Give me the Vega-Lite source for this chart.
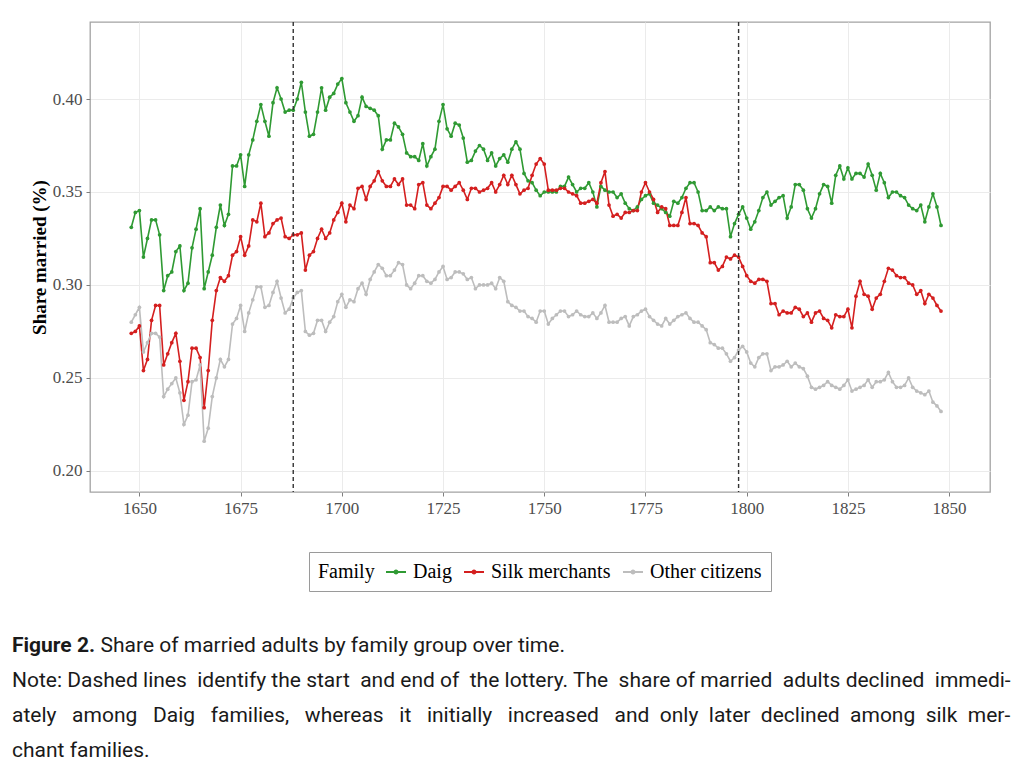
{
  "$schema": "https://vega.github.io/schema/vega-lite/v6.json",
  "width": 900,
  "height": 470,
  "autosize": "none",
  "padding": {"left": 90, "top": 22, "right": 34, "bottom": 279},
  "background": "white",
  "config": {
    "view": {"stroke": "#a3a3a3", "strokeWidth": 1.3},
    "axis": {
      "domain": false,
      "grid": true,
      "gridColor": "#ebebeb",
      "gridWidth": 1,
      "tickColor": "#7f7f7f",
      "tickSize": 4,
      "labelFont": "Liberation Serif",
      "labelFontSize": 17,
      "labelColor": "#4d4d4d",
      "labelPadding": 4
    }
  },
  "title": {
    "text": "Figure 2.",
    "subtitle": [
      "\u200b\u00a0\u00a0\u00a0\u00a0\u00a0\u00a0\u00a0\u00a0\u00a0\u00a0\u00a0\u00a0\u00a0\u00a0\u00a0\u00a0\u00a0Share of married adults by family group over time.",
      "Note: Dashed lines \u00a0identify the start \u00a0and end of \u00a0the lottery. The \u00a0share of married \u00a0adults declined \u00a0immedi-",
      "ately \u00a0\u00a0among \u00a0\u00a0Daig \u00a0\u00a0families, \u00a0\u00a0whereas \u00a0\u00a0it \u00a0\u00a0initially \u00a0\u00a0increased \u00a0\u00a0and \u00a0only \u00a0later \u00a0declined \u00a0among \u00a0silk \u00a0mer-",
      "chant families."
    ],
    "orient": "bottom",
    "anchor": "start",
    "frame": "group",
    "dx": -78,
    "offset": 43,
    "font": "Roboto",
    "fontSize": 21,
    "fontWeight": "bold",
    "color": "#1a1a1a",
    "subtitleFont": "Roboto",
    "subtitleFontSize": 21,
    "subtitleColor": "#1a1a1a",
    "subtitleLineHeight": 35,
    "subtitlePadding": -21
  },
  "datasets": {
    "lottery": [
      {"event": "start", "year": 1688},
      {"event": "end", "year": 1798}
    ],
    "married": [
      {"year":1648,"family":"Daig","share":0.331},{"year":1649,"family":"Daig","share":0.339},{"year":1650,"family":"Daig","share":0.340},{"year":1651,"family":"Daig","share":0.315},{"year":1652,"family":"Daig","share":0.325},{"year":1653,"family":"Daig","share":0.335},{"year":1654,"family":"Daig","share":0.335},{"year":1655,"family":"Daig","share":0.327},{"year":1656,"family":"Daig","share":0.297},{"year":1657,"family":"Daig","share":0.305},
      {"year":1658,"family":"Daig","share":0.307},{"year":1659,"family":"Daig","share":0.318},{"year":1660,"family":"Daig","share":0.321},{"year":1661,"family":"Daig","share":0.297},{"year":1662,"family":"Daig","share":0.301},{"year":1663,"family":"Daig","share":0.320},{"year":1664,"family":"Daig","share":0.330},{"year":1665,"family":"Daig","share":0.341},{"year":1666,"family":"Daig","share":0.298},{"year":1667,"family":"Daig","share":0.307},
      {"year":1668,"family":"Daig","share":0.316},{"year":1669,"family":"Daig","share":0.331},{"year":1670,"family":"Daig","share":0.343},{"year":1671,"family":"Daig","share":0.332},{"year":1672,"family":"Daig","share":0.338},{"year":1673,"family":"Daig","share":0.364},{"year":1674,"family":"Daig","share":0.364},{"year":1675,"family":"Daig","share":0.370},{"year":1676,"family":"Daig","share":0.353},{"year":1677,"family":"Daig","share":0.370},
      {"year":1678,"family":"Daig","share":0.378},{"year":1679,"family":"Daig","share":0.388},{"year":1680,"family":"Daig","share":0.397},{"year":1681,"family":"Daig","share":0.388},{"year":1682,"family":"Daig","share":0.380},{"year":1683,"family":"Daig","share":0.398},{"year":1684,"family":"Daig","share":0.406},{"year":1685,"family":"Daig","share":0.400},{"year":1686,"family":"Daig","share":0.393},{"year":1687,"family":"Daig","share":0.394},
      {"year":1688,"family":"Daig","share":0.394},{"year":1689,"family":"Daig","share":0.400},{"year":1690,"family":"Daig","share":0.409},{"year":1691,"family":"Daig","share":0.393},{"year":1692,"family":"Daig","share":0.380},{"year":1693,"family":"Daig","share":0.381},{"year":1694,"family":"Daig","share":0.393},{"year":1695,"family":"Daig","share":0.406},{"year":1696,"family":"Daig","share":0.394},{"year":1697,"family":"Daig","share":0.401},
      {"year":1698,"family":"Daig","share":0.403},{"year":1699,"family":"Daig","share":0.408},{"year":1700,"family":"Daig","share":0.411},{"year":1701,"family":"Daig","share":0.398},{"year":1702,"family":"Daig","share":0.393},{"year":1703,"family":"Daig","share":0.388},{"year":1704,"family":"Daig","share":0.391},{"year":1705,"family":"Daig","share":0.401},{"year":1706,"family":"Daig","share":0.396},{"year":1707,"family":"Daig","share":0.395},
      {"year":1708,"family":"Daig","share":0.394},{"year":1709,"family":"Daig","share":0.391},{"year":1710,"family":"Daig","share":0.373},{"year":1711,"family":"Daig","share":0.378},{"year":1712,"family":"Daig","share":0.378},{"year":1713,"family":"Daig","share":0.387},{"year":1714,"family":"Daig","share":0.385},{"year":1715,"family":"Daig","share":0.381},{"year":1716,"family":"Daig","share":0.371},{"year":1717,"family":"Daig","share":0.369},
      {"year":1718,"family":"Daig","share":0.369},{"year":1719,"family":"Daig","share":0.367},{"year":1720,"family":"Daig","share":0.376},{"year":1721,"family":"Daig","share":0.364},{"year":1722,"family":"Daig","share":0.369},{"year":1723,"family":"Daig","share":0.373},{"year":1724,"family":"Daig","share":0.388},{"year":1725,"family":"Daig","share":0.397},{"year":1726,"family":"Daig","share":0.384},{"year":1727,"family":"Daig","share":0.380},
      {"year":1728,"family":"Daig","share":0.387},{"year":1729,"family":"Daig","share":0.386},{"year":1730,"family":"Daig","share":0.379},{"year":1731,"family":"Daig","share":0.366},{"year":1732,"family":"Daig","share":0.367},{"year":1733,"family":"Daig","share":0.372},{"year":1734,"family":"Daig","share":0.375},{"year":1735,"family":"Daig","share":0.373},{"year":1736,"family":"Daig","share":0.367},{"year":1737,"family":"Daig","share":0.371},
      {"year":1738,"family":"Daig","share":0.364},{"year":1739,"family":"Daig","share":0.368},{"year":1740,"family":"Daig","share":0.370},{"year":1741,"family":"Daig","share":0.366},{"year":1742,"family":"Daig","share":0.373},{"year":1743,"family":"Daig","share":0.377},{"year":1744,"family":"Daig","share":0.373},{"year":1745,"family":"Daig","share":0.360},{"year":1746,"family":"Daig","share":0.356},{"year":1747,"family":"Daig","share":0.355},
      {"year":1748,"family":"Daig","share":0.351},{"year":1749,"family":"Daig","share":0.348},{"year":1750,"family":"Daig","share":0.350},{"year":1751,"family":"Daig","share":0.350},{"year":1752,"family":"Daig","share":0.350},{"year":1753,"family":"Daig","share":0.350},{"year":1754,"family":"Daig","share":0.353},{"year":1755,"family":"Daig","share":0.353},{"year":1756,"family":"Daig","share":0.358},{"year":1757,"family":"Daig","share":0.354},
      {"year":1758,"family":"Daig","share":0.350},{"year":1759,"family":"Daig","share":0.352},{"year":1760,"family":"Daig","share":0.352},{"year":1761,"family":"Daig","share":0.355},{"year":1762,"family":"Daig","share":0.350},{"year":1763,"family":"Daig","share":0.342},{"year":1764,"family":"Daig","share":0.353},{"year":1765,"family":"Daig","share":0.351},{"year":1766,"family":"Daig","share":0.350},{"year":1767,"family":"Daig","share":0.350},
      {"year":1768,"family":"Daig","share":0.347},{"year":1769,"family":"Daig","share":0.349},{"year":1770,"family":"Daig","share":0.344},{"year":1771,"family":"Daig","share":0.341},{"year":1772,"family":"Daig","share":0.340},{"year":1773,"family":"Daig","share":0.342},{"year":1774,"family":"Daig","share":0.346},{"year":1775,"family":"Daig","share":0.348},{"year":1776,"family":"Daig","share":0.349},{"year":1777,"family":"Daig","share":0.344},
      {"year":1778,"family":"Daig","share":0.343},{"year":1779,"family":"Daig","share":0.341},{"year":1780,"family":"Daig","share":0.339},{"year":1781,"family":"Daig","share":0.337},{"year":1782,"family":"Daig","share":0.345},{"year":1783,"family":"Daig","share":0.344},{"year":1784,"family":"Daig","share":0.347},{"year":1785,"family":"Daig","share":0.352},{"year":1786,"family":"Daig","share":0.355},{"year":1787,"family":"Daig","share":0.355},
      {"year":1788,"family":"Daig","share":0.350},{"year":1789,"family":"Daig","share":0.340},{"year":1790,"family":"Daig","share":0.340},{"year":1791,"family":"Daig","share":0.342},{"year":1792,"family":"Daig","share":0.340},{"year":1793,"family":"Daig","share":0.342},{"year":1794,"family":"Daig","share":0.341},{"year":1795,"family":"Daig","share":0.341},{"year":1796,"family":"Daig","share":0.326},{"year":1797,"family":"Daig","share":0.333},
      {"year":1798,"family":"Daig","share":0.338},{"year":1799,"family":"Daig","share":0.342},{"year":1800,"family":"Daig","share":0.336},{"year":1801,"family":"Daig","share":0.330},{"year":1802,"family":"Daig","share":0.334},{"year":1803,"family":"Daig","share":0.340},{"year":1804,"family":"Daig","share":0.347},{"year":1805,"family":"Daig","share":0.350},{"year":1806,"family":"Daig","share":0.343},{"year":1807,"family":"Daig","share":0.345},
      {"year":1808,"family":"Daig","share":0.347},{"year":1809,"family":"Daig","share":0.348},{"year":1810,"family":"Daig","share":0.336},{"year":1811,"family":"Daig","share":0.342},{"year":1812,"family":"Daig","share":0.354},{"year":1813,"family":"Daig","share":0.354},{"year":1814,"family":"Daig","share":0.351},{"year":1815,"family":"Daig","share":0.341},{"year":1816,"family":"Daig","share":0.336},{"year":1817,"family":"Daig","share":0.341},
      {"year":1818,"family":"Daig","share":0.349},{"year":1819,"family":"Daig","share":0.354},{"year":1820,"family":"Daig","share":0.353},{"year":1821,"family":"Daig","share":0.344},{"year":1822,"family":"Daig","share":0.359},{"year":1823,"family":"Daig","share":0.364},{"year":1824,"family":"Daig","share":0.357},{"year":1825,"family":"Daig","share":0.363},{"year":1826,"family":"Daig","share":0.357},{"year":1827,"family":"Daig","share":0.360},
      {"year":1828,"family":"Daig","share":0.360},{"year":1829,"family":"Daig","share":0.358},{"year":1830,"family":"Daig","share":0.365},{"year":1831,"family":"Daig","share":0.359},{"year":1832,"family":"Daig","share":0.351},{"year":1833,"family":"Daig","share":0.360},{"year":1834,"family":"Daig","share":0.355},{"year":1835,"family":"Daig","share":0.347},{"year":1836,"family":"Daig","share":0.350},{"year":1837,"family":"Daig","share":0.350},
      {"year":1838,"family":"Daig","share":0.348},{"year":1839,"family":"Daig","share":0.347},{"year":1840,"family":"Daig","share":0.343},{"year":1841,"family":"Daig","share":0.341},{"year":1842,"family":"Daig","share":0.340},{"year":1843,"family":"Daig","share":0.343},{"year":1844,"family":"Daig","share":0.334},{"year":1845,"family":"Daig","share":0.342},{"year":1846,"family":"Daig","share":0.349},{"year":1847,"family":"Daig","share":0.342},
      {"year":1848,"family":"Daig","share":0.332},

      {"year":1648,"family":"Silk merchants","share":0.274},{"year":1649,"family":"Silk merchants","share":0.275},{"year":1650,"family":"Silk merchants","share":0.278},{"year":1651,"family":"Silk merchants","share":0.254},{"year":1652,"family":"Silk merchants","share":0.260},{"year":1653,"family":"Silk merchants","share":0.281},{"year":1654,"family":"Silk merchants","share":0.289},{"year":1655,"family":"Silk merchants","share":0.289},{"year":1656,"family":"Silk merchants","share":0.257},{"year":1657,"family":"Silk merchants","share":0.263},
      {"year":1658,"family":"Silk merchants","share":0.269},{"year":1659,"family":"Silk merchants","share":0.274},{"year":1660,"family":"Silk merchants","share":0.259},{"year":1661,"family":"Silk merchants","share":0.238},{"year":1662,"family":"Silk merchants","share":0.248},{"year":1663,"family":"Silk merchants","share":0.266},{"year":1664,"family":"Silk merchants","share":0.266},{"year":1665,"family":"Silk merchants","share":0.261},{"year":1666,"family":"Silk merchants","share":0.234},{"year":1667,"family":"Silk merchants","share":0.254},
      {"year":1668,"family":"Silk merchants","share":0.281},{"year":1669,"family":"Silk merchants","share":0.297},{"year":1670,"family":"Silk merchants","share":0.304},{"year":1671,"family":"Silk merchants","share":0.302},{"year":1672,"family":"Silk merchants","share":0.305},{"year":1673,"family":"Silk merchants","share":0.316},{"year":1674,"family":"Silk merchants","share":0.318},{"year":1675,"family":"Silk merchants","share":0.326},{"year":1676,"family":"Silk merchants","share":0.316},{"year":1677,"family":"Silk merchants","share":0.321},
      {"year":1678,"family":"Silk merchants","share":0.335},{"year":1679,"family":"Silk merchants","share":0.334},{"year":1680,"family":"Silk merchants","share":0.344},{"year":1681,"family":"Silk merchants","share":0.326},{"year":1682,"family":"Silk merchants","share":0.328},{"year":1683,"family":"Silk merchants","share":0.333},{"year":1684,"family":"Silk merchants","share":0.335},{"year":1685,"family":"Silk merchants","share":0.336},{"year":1686,"family":"Silk merchants","share":0.326},{"year":1687,"family":"Silk merchants","share":0.325},
      {"year":1688,"family":"Silk merchants","share":0.327},{"year":1689,"family":"Silk merchants","share":0.327},{"year":1690,"family":"Silk merchants","share":0.328},{"year":1691,"family":"Silk merchants","share":0.308},{"year":1692,"family":"Silk merchants","share":0.316},{"year":1693,"family":"Silk merchants","share":0.318},{"year":1694,"family":"Silk merchants","share":0.325},{"year":1695,"family":"Silk merchants","share":0.330},{"year":1696,"family":"Silk merchants","share":0.325},{"year":1697,"family":"Silk merchants","share":0.328},
      {"year":1698,"family":"Silk merchants","share":0.335},{"year":1699,"family":"Silk merchants","share":0.339},{"year":1700,"family":"Silk merchants","share":0.344},{"year":1701,"family":"Silk merchants","share":0.334},{"year":1702,"family":"Silk merchants","share":0.343},{"year":1703,"family":"Silk merchants","share":0.341},{"year":1704,"family":"Silk merchants","share":0.352},{"year":1705,"family":"Silk merchants","share":0.353},{"year":1706,"family":"Silk merchants","share":0.346},{"year":1707,"family":"Silk merchants","share":0.353},
      {"year":1708,"family":"Silk merchants","share":0.356},{"year":1709,"family":"Silk merchants","share":0.361},{"year":1710,"family":"Silk merchants","share":0.356},{"year":1711,"family":"Silk merchants","share":0.353},{"year":1712,"family":"Silk merchants","share":0.353},{"year":1713,"family":"Silk merchants","share":0.357},{"year":1714,"family":"Silk merchants","share":0.354},{"year":1715,"family":"Silk merchants","share":0.357},{"year":1716,"family":"Silk merchants","share":0.343},{"year":1717,"family":"Silk merchants","share":0.343},
      {"year":1718,"family":"Silk merchants","share":0.341},{"year":1719,"family":"Silk merchants","share":0.354},{"year":1720,"family":"Silk merchants","share":0.355},{"year":1721,"family":"Silk merchants","share":0.343},{"year":1722,"family":"Silk merchants","share":0.341},{"year":1723,"family":"Silk merchants","share":0.344},{"year":1724,"family":"Silk merchants","share":0.347},{"year":1725,"family":"Silk merchants","share":0.353},{"year":1726,"family":"Silk merchants","share":0.353},{"year":1727,"family":"Silk merchants","share":0.351},
      {"year":1728,"family":"Silk merchants","share":0.353},{"year":1729,"family":"Silk merchants","share":0.355},{"year":1730,"family":"Silk merchants","share":0.351},{"year":1731,"family":"Silk merchants","share":0.346},{"year":1732,"family":"Silk merchants","share":0.352},{"year":1733,"family":"Silk merchants","share":0.352},{"year":1734,"family":"Silk merchants","share":0.350},{"year":1735,"family":"Silk merchants","share":0.351},{"year":1736,"family":"Silk merchants","share":0.352},{"year":1737,"family":"Silk merchants","share":0.355},
      {"year":1738,"family":"Silk merchants","share":0.350},{"year":1739,"family":"Silk merchants","share":0.354},{"year":1740,"family":"Silk merchants","share":0.359},{"year":1741,"family":"Silk merchants","share":0.354},{"year":1742,"family":"Silk merchants","share":0.359},{"year":1743,"family":"Silk merchants","share":0.354},{"year":1744,"family":"Silk merchants","share":0.349},{"year":1745,"family":"Silk merchants","share":0.351},{"year":1746,"family":"Silk merchants","share":0.352},{"year":1747,"family":"Silk merchants","share":0.359},
      {"year":1748,"family":"Silk merchants","share":0.365},{"year":1749,"family":"Silk merchants","share":0.368},{"year":1750,"family":"Silk merchants","share":0.365},{"year":1751,"family":"Silk merchants","share":0.351},{"year":1752,"family":"Silk merchants","share":0.351},{"year":1753,"family":"Silk merchants","share":0.351},{"year":1754,"family":"Silk merchants","share":0.352},{"year":1755,"family":"Silk merchants","share":0.352},{"year":1756,"family":"Silk merchants","share":0.350},{"year":1757,"family":"Silk merchants","share":0.349},
      {"year":1758,"family":"Silk merchants","share":0.348},{"year":1759,"family":"Silk merchants","share":0.344},{"year":1760,"family":"Silk merchants","share":0.344},{"year":1761,"family":"Silk merchants","share":0.345},{"year":1762,"family":"Silk merchants","share":0.346},{"year":1763,"family":"Silk merchants","share":0.344},{"year":1764,"family":"Silk merchants","share":0.355},{"year":1765,"family":"Silk merchants","share":0.361},{"year":1766,"family":"Silk merchants","share":0.343},{"year":1767,"family":"Silk merchants","share":0.337},
      {"year":1768,"family":"Silk merchants","share":0.338},{"year":1769,"family":"Silk merchants","share":0.336},{"year":1770,"family":"Silk merchants","share":0.339},{"year":1771,"family":"Silk merchants","share":0.339},{"year":1772,"family":"Silk merchants","share":0.340},{"year":1773,"family":"Silk merchants","share":0.340},{"year":1774,"family":"Silk merchants","share":0.350},{"year":1775,"family":"Silk merchants","share":0.355},{"year":1776,"family":"Silk merchants","share":0.350},{"year":1777,"family":"Silk merchants","share":0.346},
      {"year":1778,"family":"Silk merchants","share":0.339},{"year":1779,"family":"Silk merchants","share":0.342},{"year":1780,"family":"Silk merchants","share":0.341},{"year":1781,"family":"Silk merchants","share":0.332},{"year":1782,"family":"Silk merchants","share":0.332},{"year":1783,"family":"Silk merchants","share":0.332},{"year":1784,"family":"Silk merchants","share":0.339},{"year":1785,"family":"Silk merchants","share":0.347},{"year":1786,"family":"Silk merchants","share":0.333},{"year":1787,"family":"Silk merchants","share":0.333},
      {"year":1788,"family":"Silk merchants","share":0.332},{"year":1789,"family":"Silk merchants","share":0.328},{"year":1790,"family":"Silk merchants","share":0.326},{"year":1791,"family":"Silk merchants","share":0.312},{"year":1792,"family":"Silk merchants","share":0.312},{"year":1793,"family":"Silk merchants","share":0.308},{"year":1794,"family":"Silk merchants","share":0.310},{"year":1795,"family":"Silk merchants","share":0.315},{"year":1796,"family":"Silk merchants","share":0.314},{"year":1797,"family":"Silk merchants","share":0.316},
      {"year":1798,"family":"Silk merchants","share":0.315},{"year":1799,"family":"Silk merchants","share":0.310},{"year":1800,"family":"Silk merchants","share":0.305},{"year":1801,"family":"Silk merchants","share":0.302},{"year":1802,"family":"Silk merchants","share":0.301},{"year":1803,"family":"Silk merchants","share":0.303},{"year":1804,"family":"Silk merchants","share":0.303},{"year":1805,"family":"Silk merchants","share":0.302},{"year":1806,"family":"Silk merchants","share":0.290},{"year":1807,"family":"Silk merchants","share":0.290},
      {"year":1808,"family":"Silk merchants","share":0.284},{"year":1809,"family":"Silk merchants","share":0.286},{"year":1810,"family":"Silk merchants","share":0.285},{"year":1811,"family":"Silk merchants","share":0.285},{"year":1812,"family":"Silk merchants","share":0.288},{"year":1813,"family":"Silk merchants","share":0.287},{"year":1814,"family":"Silk merchants","share":0.283},{"year":1815,"family":"Silk merchants","share":0.285},{"year":1816,"family":"Silk merchants","share":0.280},{"year":1817,"family":"Silk merchants","share":0.285},
      {"year":1818,"family":"Silk merchants","share":0.286},{"year":1819,"family":"Silk merchants","share":0.282},{"year":1820,"family":"Silk merchants","share":0.281},{"year":1821,"family":"Silk merchants","share":0.277},{"year":1822,"family":"Silk merchants","share":0.284},{"year":1823,"family":"Silk merchants","share":0.283},{"year":1824,"family":"Silk merchants","share":0.283},{"year":1825,"family":"Silk merchants","share":0.287},{"year":1826,"family":"Silk merchants","share":0.277},{"year":1827,"family":"Silk merchants","share":0.294},
      {"year":1828,"family":"Silk merchants","share":0.302},{"year":1829,"family":"Silk merchants","share":0.295},{"year":1830,"family":"Silk merchants","share":0.294},{"year":1831,"family":"Silk merchants","share":0.287},{"year":1832,"family":"Silk merchants","share":0.293},{"year":1833,"family":"Silk merchants","share":0.295},{"year":1834,"family":"Silk merchants","share":0.302},{"year":1835,"family":"Silk merchants","share":0.309},{"year":1836,"family":"Silk merchants","share":0.308},{"year":1837,"family":"Silk merchants","share":0.305},
      {"year":1838,"family":"Silk merchants","share":0.304},{"year":1839,"family":"Silk merchants","share":0.304},{"year":1840,"family":"Silk merchants","share":0.301},{"year":1841,"family":"Silk merchants","share":0.300},{"year":1842,"family":"Silk merchants","share":0.295},{"year":1843,"family":"Silk merchants","share":0.297},{"year":1844,"family":"Silk merchants","share":0.290},{"year":1845,"family":"Silk merchants","share":0.295},{"year":1846,"family":"Silk merchants","share":0.293},{"year":1847,"family":"Silk merchants","share":0.289},
      {"year":1848,"family":"Silk merchants","share":0.286},

      {"year":1648,"family":"Other citizens","share":0.280},{"year":1649,"family":"Other citizens","share":0.284},{"year":1650,"family":"Other citizens","share":0.288},{"year":1651,"family":"Other citizens","share":0.264},{"year":1652,"family":"Other citizens","share":0.269},{"year":1653,"family":"Other citizens","share":0.274},{"year":1654,"family":"Other citizens","share":0.274},{"year":1655,"family":"Other citizens","share":0.272},{"year":1656,"family":"Other citizens","share":0.240},{"year":1657,"family":"Other citizens","share":0.244},
      {"year":1658,"family":"Other citizens","share":0.247},{"year":1659,"family":"Other citizens","share":0.250},{"year":1660,"family":"Other citizens","share":0.242},{"year":1661,"family":"Other citizens","share":0.225},{"year":1662,"family":"Other citizens","share":0.230},{"year":1663,"family":"Other citizens","share":0.248},{"year":1664,"family":"Other citizens","share":0.249},{"year":1665,"family":"Other citizens","share":0.257},{"year":1666,"family":"Other citizens","share":0.216},{"year":1667,"family":"Other citizens","share":0.223},
      {"year":1668,"family":"Other citizens","share":0.240},{"year":1669,"family":"Other citizens","share":0.250},{"year":1670,"family":"Other citizens","share":0.260},{"year":1671,"family":"Other citizens","share":0.256},{"year":1672,"family":"Other citizens","share":0.260},{"year":1673,"family":"Other citizens","share":0.279},{"year":1674,"family":"Other citizens","share":0.282},{"year":1675,"family":"Other citizens","share":0.289},{"year":1676,"family":"Other citizens","share":0.275},{"year":1677,"family":"Other citizens","share":0.285},
      {"year":1678,"family":"Other citizens","share":0.292},{"year":1679,"family":"Other citizens","share":0.299},{"year":1680,"family":"Other citizens","share":0.299},{"year":1681,"family":"Other citizens","share":0.288},{"year":1682,"family":"Other citizens","share":0.289},{"year":1683,"family":"Other citizens","share":0.296},{"year":1684,"family":"Other citizens","share":0.302},{"year":1685,"family":"Other citizens","share":0.293},{"year":1686,"family":"Other citizens","share":0.285},{"year":1687,"family":"Other citizens","share":0.287},
      {"year":1688,"family":"Other citizens","share":0.293},{"year":1689,"family":"Other citizens","share":0.296},{"year":1690,"family":"Other citizens","share":0.297},{"year":1691,"family":"Other citizens","share":0.275},{"year":1692,"family":"Other citizens","share":0.273},{"year":1693,"family":"Other citizens","share":0.274},{"year":1694,"family":"Other citizens","share":0.281},{"year":1695,"family":"Other citizens","share":0.281},{"year":1696,"family":"Other citizens","share":0.275},{"year":1697,"family":"Other citizens","share":0.280},
      {"year":1698,"family":"Other citizens","share":0.283},{"year":1699,"family":"Other citizens","share":0.291},{"year":1700,"family":"Other citizens","share":0.295},{"year":1701,"family":"Other citizens","share":0.288},{"year":1702,"family":"Other citizens","share":0.292},{"year":1703,"family":"Other citizens","share":0.291},{"year":1704,"family":"Other citizens","share":0.298},{"year":1705,"family":"Other citizens","share":0.301},{"year":1706,"family":"Other citizens","share":0.295},{"year":1707,"family":"Other citizens","share":0.303},
      {"year":1708,"family":"Other citizens","share":0.307},{"year":1709,"family":"Other citizens","share":0.311},{"year":1710,"family":"Other citizens","share":0.309},{"year":1711,"family":"Other citizens","share":0.305},{"year":1712,"family":"Other citizens","share":0.305},{"year":1713,"family":"Other citizens","share":0.308},{"year":1714,"family":"Other citizens","share":0.312},{"year":1715,"family":"Other citizens","share":0.311},{"year":1716,"family":"Other citizens","share":0.300},{"year":1717,"family":"Other citizens","share":0.298},
      {"year":1718,"family":"Other citizens","share":0.301},{"year":1719,"family":"Other citizens","share":0.305},{"year":1720,"family":"Other citizens","share":0.305},{"year":1721,"family":"Other citizens","share":0.302},{"year":1722,"family":"Other citizens","share":0.301},{"year":1723,"family":"Other citizens","share":0.303},{"year":1724,"family":"Other citizens","share":0.307},{"year":1725,"family":"Other citizens","share":0.310},{"year":1726,"family":"Other citizens","share":0.303},{"year":1727,"family":"Other citizens","share":0.304},
      {"year":1728,"family":"Other citizens","share":0.307},{"year":1729,"family":"Other citizens","share":0.307},{"year":1730,"family":"Other citizens","share":0.306},{"year":1731,"family":"Other citizens","share":0.303},{"year":1732,"family":"Other citizens","share":0.304},{"year":1733,"family":"Other citizens","share":0.298},{"year":1734,"family":"Other citizens","share":0.300},{"year":1735,"family":"Other citizens","share":0.300},{"year":1736,"family":"Other citizens","share":0.300},{"year":1737,"family":"Other citizens","share":0.301},
      {"year":1738,"family":"Other citizens","share":0.298},{"year":1739,"family":"Other citizens","share":0.304},{"year":1740,"family":"Other citizens","share":0.302},{"year":1741,"family":"Other citizens","share":0.291},{"year":1742,"family":"Other citizens","share":0.289},{"year":1743,"family":"Other citizens","share":0.288},{"year":1744,"family":"Other citizens","share":0.286},{"year":1745,"family":"Other citizens","share":0.286},{"year":1746,"family":"Other citizens","share":0.283},{"year":1747,"family":"Other citizens","share":0.282},
      {"year":1748,"family":"Other citizens","share":0.280},{"year":1749,"family":"Other citizens","share":0.286},{"year":1750,"family":"Other citizens","share":0.286},{"year":1751,"family":"Other citizens","share":0.279},{"year":1752,"family":"Other citizens","share":0.282},{"year":1753,"family":"Other citizens","share":0.284},{"year":1754,"family":"Other citizens","share":0.286},{"year":1755,"family":"Other citizens","share":0.286},{"year":1756,"family":"Other citizens","share":0.283},{"year":1757,"family":"Other citizens","share":0.284},
      {"year":1758,"family":"Other citizens","share":0.286},{"year":1759,"family":"Other citizens","share":0.284},{"year":1760,"family":"Other citizens","share":0.283},{"year":1761,"family":"Other citizens","share":0.283},{"year":1762,"family":"Other citizens","share":0.285},{"year":1763,"family":"Other citizens","share":0.282},{"year":1764,"family":"Other citizens","share":0.285},{"year":1765,"family":"Other citizens","share":0.289},{"year":1766,"family":"Other citizens","share":0.280},{"year":1767,"family":"Other citizens","share":0.280},
      {"year":1768,"family":"Other citizens","share":0.280},{"year":1769,"family":"Other citizens","share":0.282},{"year":1770,"family":"Other citizens","share":0.283},{"year":1771,"family":"Other citizens","share":0.278},{"year":1772,"family":"Other citizens","share":0.283},{"year":1773,"family":"Other citizens","share":0.284},{"year":1774,"family":"Other citizens","share":0.286},{"year":1775,"family":"Other citizens","share":0.287},{"year":1776,"family":"Other citizens","share":0.283},{"year":1777,"family":"Other citizens","share":0.281},
      {"year":1778,"family":"Other citizens","share":0.279},{"year":1779,"family":"Other citizens","share":0.278},{"year":1780,"family":"Other citizens","share":0.282},{"year":1781,"family":"Other citizens","share":0.279},{"year":1782,"family":"Other citizens","share":0.281},{"year":1783,"family":"Other citizens","share":0.283},{"year":1784,"family":"Other citizens","share":0.284},{"year":1785,"family":"Other citizens","share":0.285},{"year":1786,"family":"Other citizens","share":0.282},{"year":1787,"family":"Other citizens","share":0.280},
      {"year":1788,"family":"Other citizens","share":0.280},{"year":1789,"family":"Other citizens","share":0.278},{"year":1790,"family":"Other citizens","share":0.276},{"year":1791,"family":"Other citizens","share":0.269},{"year":1792,"family":"Other citizens","share":0.268},{"year":1793,"family":"Other citizens","share":0.266},{"year":1794,"family":"Other citizens","share":0.266},{"year":1795,"family":"Other citizens","share":0.263},{"year":1796,"family":"Other citizens","share":0.259},{"year":1797,"family":"Other citizens","share":0.261},
      {"year":1798,"family":"Other citizens","share":0.265},{"year":1799,"family":"Other citizens","share":0.267},{"year":1800,"family":"Other citizens","share":0.264},{"year":1801,"family":"Other citizens","share":0.258},{"year":1802,"family":"Other citizens","share":0.256},{"year":1803,"family":"Other citizens","share":0.261},{"year":1804,"family":"Other citizens","share":0.263},{"year":1805,"family":"Other citizens","share":0.263},{"year":1806,"family":"Other citizens","share":0.254},{"year":1807,"family":"Other citizens","share":0.256},
      {"year":1808,"family":"Other citizens","share":0.256},{"year":1809,"family":"Other citizens","share":0.257},{"year":1810,"family":"Other citizens","share":0.259},{"year":1811,"family":"Other citizens","share":0.256},{"year":1812,"family":"Other citizens","share":0.258},{"year":1813,"family":"Other citizens","share":0.256},{"year":1814,"family":"Other citizens","share":0.255},{"year":1815,"family":"Other citizens","share":0.251},{"year":1816,"family":"Other citizens","share":0.245},{"year":1817,"family":"Other citizens","share":0.244},
      {"year":1818,"family":"Other citizens","share":0.245},{"year":1819,"family":"Other citizens","share":0.246},{"year":1820,"family":"Other citizens","share":0.248},{"year":1821,"family":"Other citizens","share":0.246},{"year":1822,"family":"Other citizens","share":0.245},{"year":1823,"family":"Other citizens","share":0.244},{"year":1824,"family":"Other citizens","share":0.246},{"year":1825,"family":"Other citizens","share":0.249},{"year":1826,"family":"Other citizens","share":0.243},{"year":1827,"family":"Other citizens","share":0.244},
      {"year":1828,"family":"Other citizens","share":0.245},{"year":1829,"family":"Other citizens","share":0.246},{"year":1830,"family":"Other citizens","share":0.249},{"year":1831,"family":"Other citizens","share":0.245},{"year":1832,"family":"Other citizens","share":0.248},{"year":1833,"family":"Other citizens","share":0.248},{"year":1834,"family":"Other citizens","share":0.249},{"year":1835,"family":"Other citizens","share":0.253},{"year":1836,"family":"Other citizens","share":0.248},{"year":1837,"family":"Other citizens","share":0.245},
      {"year":1838,"family":"Other citizens","share":0.245},{"year":1839,"family":"Other citizens","share":0.246},{"year":1840,"family":"Other citizens","share":0.250},{"year":1841,"family":"Other citizens","share":0.245},{"year":1842,"family":"Other citizens","share":0.243},{"year":1843,"family":"Other citizens","share":0.242},{"year":1844,"family":"Other citizens","share":0.241},{"year":1845,"family":"Other citizens","share":0.243},{"year":1846,"family":"Other citizens","share":0.237},{"year":1847,"family":"Other citizens","share":0.235},
      {"year":1848,"family":"Other citizens","share":0.232}
    ]
  },
  "encoding": {
    "x": {
      "field": "year",
      "type": "quantitative",
      "scale": {"domain": [1637.8, 1860.1], "nice": false, "zero": false},
      "axis": {"values": [1650, 1675, 1700, 1725, 1750, 1775, 1800, 1825, 1850], "format": "d", "title": null}
    }
  },
  "layer": [
    {
      "data": {"name": "married"},
      "mark": {"type": "line", "strokeWidth": 1.6},
      "encoding": {
        "y": {
          "field": "share",
          "type": "quantitative",
          "scale": {"domain": [0.1887, 0.4414], "nice": false, "zero": false},
          "axis": {
            "values": [0.2, 0.25, 0.3, 0.35, 0.4],
            "format": ".2f",
            "title": "Share married (%)",
            "titleFont": "Liberation Serif",
            "titleFontSize": 19,
            "titleFontWeight": "bold",
            "titleColor": "#000000",
            "titlePadding": 3
          }
        },
        "color": {
          "field": "family",
          "type": "nominal",
          "scale": {
            "domain": ["Daig", "Silk merchants", "Other citizens"],
            "range": ["#2f9a33", "#d41f1f", "#bdbdbd"]
          },
          "legend": {
            "title": "Family",
            "orient": "none",
            "legendX": 219,
            "legendY": 530,
            "direction": "horizontal",
            "titleOrient": "left",
            "titleFont": "Liberation Serif",
            "titleFontSize": 20,
            "titleFontWeight": "normal",
            "titleColor": "#000000",
            "titlePadding": 10,
            "labelFont": "Liberation Serif",
            "labelFontSize": 20,
            "labelColor": "#000000",
            "labelOffset": 6,
            "columnPadding": 8,
            "symbolType": "M-1,0L1,0M-0.15,0A0.15,0.15,0,1,0,0.15,0A0.15,0.15,0,1,0,-0.15,0",
            "symbolSize": 400,
            "symbolStrokeWidth": 2,
            "strokeColor": "#9a9a9a",
            "padding": 9
          }
        }
      }
    },
    {
      "data": {"name": "married"},
      "mark": {"type": "point", "filled": true, "size": 14, "opacity": 1},
      "encoding": {
        "y": {"field": "share", "type": "quantitative"},
        "color": {"field": "family", "type": "nominal"}
      }
    },
    {
      "data": {"name": "lottery"},
      "mark": {"type": "rule", "color": "#333333", "strokeWidth": 1.4, "strokeDash": [4, 3]},
      "encoding": {}
    }
  ]
}
